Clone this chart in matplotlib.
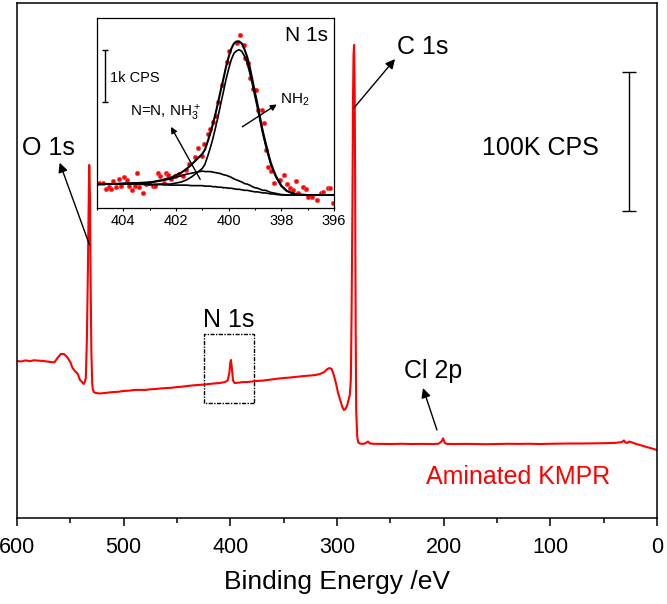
import matplotlib
matplotlib.use("Agg")
import matplotlib.pyplot as plt
from matplotlib.patches import Rectangle
from matplotlib.ticker import MultipleLocator

plt.rcParams['font.family'] = ['Liberation Sans', 'DejaVu Sans']
plt.rcParams['mathtext.default'] = 'regular'

# survey spectrum, binding energy (eV) and counts (kCPS)
survey_be = [600, 596, 592, 588, 584, 580, 576, 572, 568, 565, 562, 559, 556, 553, 550,
             548, 546, 543, 541, 539, 537.5, 536.5, 535.5, 534.5, 533.5, 533, 532.3,
             531.5, 531, 530.3, 529.5, 529, 528, 526, 522, 518, 514, 510, 505, 500,
             495, 490, 485, 480, 475, 470, 465, 460, 455, 450, 445, 440, 435, 430,
             425, 420, 415, 410, 405, 402.5, 401, 400, 399.4, 398.6, 397.5, 396, 392,
             388, 384, 380, 375, 370, 365, 360, 355, 350, 345, 340, 335, 330, 325,
             320, 316, 312, 309, 307, 305, 303, 301, 299, 297, 295, 293.5, 292,
             290.5, 289, 288, 287, 286.3, 285.5, 285, 284.5, 284, 283.5, 283, 282.5,
             282, 281, 280, 278, 275, 273, 271, 269, 266, 260, 250, 240, 230, 220,
             210, 205, 202, 200.5, 199, 197, 190, 180, 170, 160, 150, 140, 130, 120,
             110, 100, 90, 80, 70, 60, 50, 40, 33, 31, 29.5, 28, 26, 24, 20, 15, 10,
             6, 3, 0]
survey_kcps = [112.9, 112.6, 113.4, 112.8, 113.5, 113.2, 113.0, 112.6, 112.2, 112.0,
               115.1, 118.0, 118.0, 115.8, 112.2, 108.0, 106.0, 103.6, 99.3, 97.8,
               96.4, 97.8, 100.7, 128.1, 180.0, 214.4, 254.0, 228.8, 171.2, 120.0,
               97.0, 92.8, 90.6, 89.9, 89.6, 89.9, 90.3, 90.6, 90.8, 91.4, 91.6, 92.1,
               92.2, 92.1, 92.6, 92.8, 93.2, 93.5, 93.7, 94.2, 94.5, 95.0, 95.4, 95.7,
               96.0, 96.4, 96.8, 97.1, 97.8, 99.0, 104.0, 112.0, 113.7, 108.0, 99.0,
               97.1, 97.4, 97.8, 97.8, 98.2, 98.6, 98.8, 99.3, 99.8, 100.3, 100.7,
               101.0, 101.4, 101.8, 102.2, 102.5, 102.9, 103.6, 105.0, 107.2, 107.9,
               107.2, 102.9, 97.0, 90.0, 85.0, 79.8, 77.7, 78.5, 81.0, 85.5, 88.5,
               100.0, 150.0, 230.0, 300.7, 333.1, 340.3, 315.1, 243.2, 135.3, 77.0,
               58.0, 54.2, 53.4, 53.4, 53.9, 55.0, 53.6, 53.4, 53.3, 53.2, 53.4, 53.2,
               53.3, 53.2, 53.4, 55.0, 57.3, 54.0, 53.3, 53.2, 53.3, 53.2, 53.1, 53.2,
               53.4, 53.3, 53.4, 53.2, 53.4, 53.5, 53.6, 53.6, 53.7, 53.8, 54.0, 54.6,
               55.8, 54.3, 54.0, 55.0, 54.5, 53.4, 52.3, 51.2, 50.4, 49.6, 48.9]

# N 1s high resolution: measured points (eV, kCPS)
n1s_be = [404.94, 404.77, 404.66, 404.54, 404.47, 404.39, 404.28, 404.16, 404.09,
          403.97, 403.86, 403.78, 403.67, 403.56, 403.48, 403.40, 403.25, 403.14,
          403.02, 402.87, 402.79, 402.68, 402.60, 402.45, 402.38, 402.30, 402.19,
          402.03, 401.88, 401.72, 401.62, 401.50, 401.27, 401.17, 401.02, 400.94,
          400.79, 400.70, 400.59, 400.49, 400.39, 400.26, 400.08, 399.98, 399.68,
          399.56, 399.42, 399.37, 399.27, 399.18, 399.09, 398.97, 398.89, 398.74,
          398.64, 398.59, 398.49, 398.38, 398.26, 398.04, 397.88, 397.79, 397.66,
          397.57, 397.44, 397.37, 397.16, 397.06, 396.97, 396.84, 396.65, 396.48,
          396.40, 396.21, 396.14, 396.05]
n1s_kcps = [0.49, 0.49, 0.37, 0.40, 0.37, 0.52, 0.40, 0.56, 0.42, 0.60, 0.54, 0.42,
            0.35, 0.42, 0.67, 0.40, 0.29, 0.46, 0.48, 0.42, 0.42, 0.67, 0.62, 0.48,
            0.67, 0.63, 0.56, 0.62, 0.65, 0.62, 0.73, 0.85, 0.98, 1.15, 1.00, 1.23,
            1.42, 1.52, 1.66, 1.76, 2.04, 2.37, 2.81, 3.01, 3.17, 3.33, 3.13, 2.88,
            2.78, 2.50, 2.29, 2.27, 1.88, 1.88, 1.63, 1.12, 0.79, 0.71, 0.48, 0.54,
            0.63, 0.46, 0.38, 0.35, 0.51, 0.28, 0.41, 0.37, 0.22, 0.22, 0.15, 0.28,
            0.31, 0.38, 0.39, 0.09]

# fitted components on a common energy grid
fit_be = [405.0, 404.5, 404.0, 403.5, 403.0, 402.6, 402.2, 401.8, 401.6, 401.4, 401.2,
          401.0, 400.9, 400.8, 400.7, 400.6, 400.5, 400.4, 400.3, 400.2, 400.1, 400.0,
          399.9, 399.8, 399.7, 399.6, 399.5, 399.4, 399.3, 399.2, 399.1, 399.0, 398.9,
          398.8, 398.7, 398.6, 398.5, 398.4, 398.3, 398.2, 398.0, 397.8, 397.6, 397.4,
          397.0, 396.5, 396.0]
fit_bg = [0.46, 0.46, 0.46, 0.46, 0.45, 0.45, 0.44, 0.44, 0.44, 0.43, 0.43, 0.43, 0.42,
          0.42, 0.42, 0.41, 0.41, 0.40, 0.40, 0.39, 0.39, 0.38, 0.38, 0.37, 0.36, 0.36,
          0.35, 0.34, 0.34, 0.33, 0.32, 0.31, 0.31, 0.30, 0.29, 0.29, 0.28, 0.27, 0.27,
          0.26, 0.25, 0.25, 0.25, 0.25, 0.25, 0.25, 0.25]
fit_nn = [0.00, 0.00, 0.01, 0.02, 0.04, 0.07, 0.12, 0.18, 0.21, 0.24, 0.26, 0.28, 0.28,
          0.28, 0.28, 0.28, 0.27, 0.27, 0.26, 0.25, 0.24, 0.23, 0.21, 0.19, 0.18, 0.16,
          0.15, 0.13, 0.12, 0.11, 0.09, 0.08, 0.07, 0.06, 0.05, 0.05, 0.04, 0.03, 0.02,
          0.02, 0.01, 0.00, 0.00, 0.00, 0.00, 0.00, 0.00]
fit_nh2 = [0.00, 0.00, 0.00, 0.00, 0.00, 0.01, 0.02, 0.06, 0.10, 0.17, 0.25, 0.33, 0.42,
           0.57, 0.73, 0.92, 1.13, 1.36, 1.60, 1.84, 2.08, 2.29, 2.47, 2.60, 2.66, 2.68,
           2.66, 2.58, 2.45, 2.27, 2.06, 1.83, 1.60, 1.36, 1.13, 0.92, 0.74, 0.57, 0.44,
           0.33, 0.17, 0.08, 0.04, 0.01, 0.00, 0.00, 0.00]

fig = plt.figure(figsize=(6.67, 6.04), dpi=100)
ax = fig.add_axes([0.0255, 0.1424, 0.9595, 0.8526])
red = '#ff0000'

ax.plot(survey_be, survey_kcps, color=red, lw=1.5)
ax.set_xlim(600, 0)
ax.set_ylim(0, 370.5)
ax.set_yticks([])
ax.xaxis.set_major_locator(MultipleLocator(100))
ax.xaxis.set_minor_locator(MultipleLocator(50))
ax.tick_params(axis='x', which='major', length=6, width=1.1, labelsize=15.5, pad=8)
ax.tick_params(axis='x', which='minor', length=3.5, width=1.1)
for s in ax.spines.values():
    s.set_linewidth(1.1)
ax.set_xlabel('Binding Energy /eV', fontsize=19, labelpad=8)

arrow = dict(arrowstyle='-|>', color='k', lw=1, mutation_scale=14, shrinkA=0, shrinkB=0)
ax.annotate('', xy=(560, 255.6), xytext=(532, 196.4), arrowprops=arrow)
ax.text(571, 266, 'O 1s', fontsize=18, ha='center', va='center')
ax.annotate('', xy=(245.6, 330.2), xytext=(284.1, 295.0), arrowprops=arrow)
ax.text(219.4, 339, 'C 1s', fontsize=18, ha='center', va='center')
ax.annotate('', xy=(219.4, 93.5), xytext=(206.3, 63.3), arrowprops=arrow)
ax.text(210, 106, 'Cl 2p', fontsize=18, ha='center', va='center')
ax.text(401.5, 142.4, 'N 1s', fontsize=18, ha='center', va='center')
ax.add_patch(Rectangle((378, 82.7), 47, 49.7, fill=False, lw=1, ls=(0, (3, 1, 1, 1)),
                       color='k'))

# 100K CPS scale bar
ax.errorbar([26.3], [270.9], yerr=[50], color='k', lw=1, capsize=5, capthick=1)
ax.text(109.7, 266, '100K CPS', fontsize=18, ha='center', va='center')
ax.text(130.3, 29.5, 'Aminated KMPR', fontsize=18, color=red, ha='center', va='center')

# inset: N 1s
ins = fig.add_axes([0.1454, 0.6556, 0.3553, 0.3146])
ins.set_facecolor('white')
ins.plot(n1s_be, n1s_kcps, 'o', color=red, ms=3, mec='#ff4040', mew=0.6)
nn_curve = [b + n for b, n in zip(fit_bg, fit_nn)]
nh2_curve = [b + n for b, n in zip(fit_bg, fit_nh2)]
env_curve = [b + n + h for b, n, h in zip(fit_bg, fit_nn, fit_nh2)]
ins.plot(fit_be, fit_bg, color='k', lw=1.2)
ins.plot(fit_be, nn_curve, color='k', lw=1.2)
ins.plot(fit_be, nh2_curve, color='k', lw=1.2)
ins.plot(fit_be, env_curve, color='k', lw=1.5)
ins.set_xlim(405, 396)
ins.set_ylim(0, 3.65)
ins.set_yticks([])
ins.xaxis.set_major_locator(MultipleLocator(2))
ins.xaxis.set_minor_locator(MultipleLocator(1))
ins.tick_params(axis='x', which='major', length=2.5, width=0.8, labelsize=10.5, pad=2)
ins.tick_params(axis='x', which='minor', length=1.5, width=0.8)
for s in ins.spines.values():
    s.set_linewidth(0.9)
ins.text(0.975, 0.91, 'N 1s', transform=ins.transAxes, fontsize=15, ha='right',
         va='center')
ins.errorbar([404.7], [2.54], yerr=[0.5], color='k', lw=1, capsize=2, capthick=1)
ins.text(404.5, 2.5, '1k CPS', fontsize=10.5, ha='left', va='center')
ins.annotate('', xy=(402.19, 1.56), xytext=(401.08, 0.55),
             arrowprops=dict(arrowstyle='-|>', color='k', lw=1, mutation_scale=9,
                             shrinkA=0, shrinkB=0))
ins.text(403.75, 1.82, r'N=N, NH$_3^+$', fontsize=11, ha='left', va='center')
ins.annotate('', xy=(398.17, 1.99), xytext=(399.48, 1.56),
             arrowprops=dict(arrowstyle='-|>', color='k', lw=1, mutation_scale=9,
                             shrinkA=0, shrinkB=0))
ins.text(398.04, 2.08, r'NH$_2$', fontsize=11, ha='left', va='center')

fig.savefig('out.png', dpi=100)
